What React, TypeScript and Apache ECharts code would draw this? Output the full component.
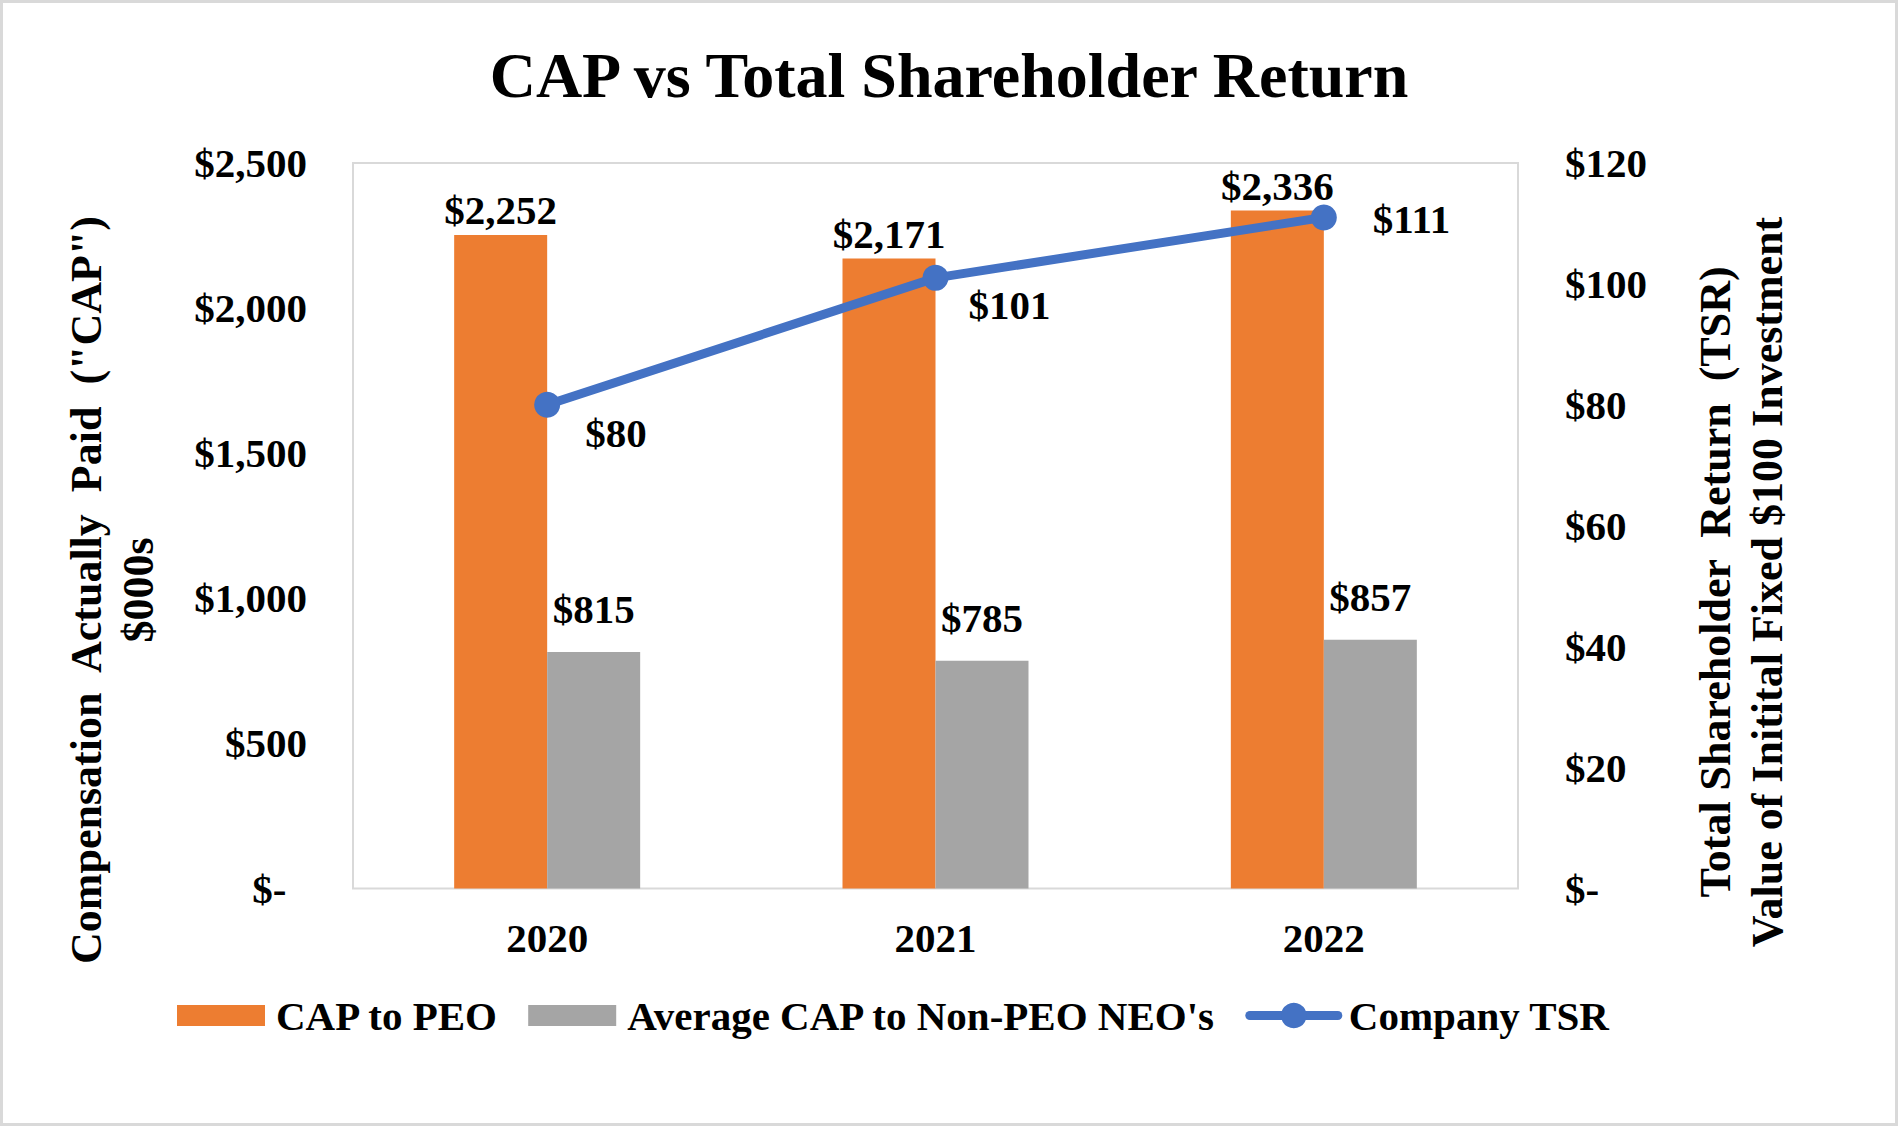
import React, { useEffect, useRef } from 'react';
import * as echarts from 'echarts';

const categories = ['2020', '2021', '2022'];
const capToPeo = [2252, 2171, 2336];
const avgCapNonPeo = [815, 785, 857];
const companyTsr = [80, 101, 111];

const leftTicks = { min: 0, max: 2500, interval: 500 };
const rightTicks = { min: 0, max: 120, interval: 20 };

const seriesNames = ['CAP to PEO', "Average CAP to Non-PEO NEO's", 'Company TSR'];

const tsrLabelOffsets = [
  [21, 28],
  [16, 27],
  [32, 2],
];

const FONT = "'Liberation Serif', 'Times New Roman', Times, serif";
const ORANGE = '#ED7D31';
const GRAY = '#A5A5A5';
const BLUE = '#4472C4';
const BAR_ICON = 'path://M0,0H88V21H0Z';

const fmtMoney = (v: number) => '$' + v.toLocaleString('en-US');

export default function App() {
  const ref = useRef<HTMLDivElement>(null);

  useEffect(() => {
    document.body.style.margin = '0';
    const chart = echarts.init(ref.current as HTMLDivElement, null, { renderer: 'svg' });
    const labelText = { fontFamily: FONT, fontWeight: 'bold' as const, fontSize: 41, color: '#000' };

    chart.setOption({
      animation: false,
      backgroundColor: '#ffffff',
      title: {
        text: 'CAP vs Total Shareholder Return',
        left: 'center',
        top: 43,
        padding: 0,
        textStyle: { fontFamily: FONT, fontWeight: 'bold', fontSize: 64, color: '#000' },
      },
      grid: {
        left: 353,
        right: 380,
        top: 163,
        bottom: 237.5,
        show: true,
        borderColor: '#d9d9d9',
        borderWidth: 2,
        backgroundColor: 'transparent',
      },
      legend: {
        left: 177,
        top: 995,
        padding: 0,
        itemWidth: 88,
        itemHeight: 32,
        itemGap: 29,
        symbolKeepAspect: true,
        textStyle: { ...labelText, padding: [0, 0, 0, 6] },
        data: [
          { name: seriesNames[0], icon: BAR_ICON },
          { name: seriesNames[1], icon: BAR_ICON },
          { name: seriesNames[2], lineStyle: { width: 9, cap: 'round', color: BLUE } },
        ],
      },
      xAxis: {
        type: 'category',
        data: categories,
        axisLine: { show: false },
        axisTick: { show: false },
        axisLabel: { ...labelText, margin: 29 },
      },
      yAxis: [
        {
          type: 'value',
          ...leftTicks,
          position: 'left',
          splitLine: { show: false },
          axisLine: { show: false },
          axisTick: { show: false },
          axisLabel: {
            ...labelText,
            margin: 46,
            formatter: (v: number) => (v === 0 ? '$-\u00A0\u00A0' : fmtMoney(v)),
          },
        },
        {
          type: 'value',
          ...rightTicks,
          position: 'right',
          splitLine: { show: false },
          axisLine: { show: false },
          axisTick: { show: false },
          axisLabel: {
            ...labelText,
            margin: 47,
            formatter: (v: number) => (v === 0 ? '$-' : '$' + v),
          },
        },
      ],
      series: [
        {
          name: seriesNames[0],
          type: 'bar',
          data: capToPeo,
          barWidth: 93,
          barGap: '0%',
          itemStyle: { color: ORANGE },
          label: {
            show: true,
            position: 'top',
            distance: 4,
            ...labelText,
            formatter: (p: any) => fmtMoney(p.value),
          },
        },
        {
          name: seriesNames[1],
          type: 'bar',
          data: avgCapNonPeo,
          barWidth: 93,
          barGap: '0%',
          itemStyle: { color: GRAY },
          label: {
            show: true,
            position: 'top',
            distance: 22,
            ...labelText,
            formatter: (p: any) => fmtMoney(p.value),
          },
        },
        {
          name: seriesNames[2],
          type: 'line',
          yAxisIndex: 1,
          data: companyTsr.map((v, i) => ({ value: v, label: { offset: tsrLabelOffsets[i] } })),
          symbol: 'circle',
          symbolSize: 26,
          lineStyle: { color: BLUE, width: 9 },
          itemStyle: { color: BLUE },
          z: 5,
          label: {
            show: true,
            position: 'right',
            distance: 4,
            ...labelText,
            formatter: (p: any) => '$' + p.value,
          },
        },
      ],
      graphic: [
        {
          type: 'rect',
          silent: true,
          shape: { x: 1.5, y: 1.5, width: 1895, height: 1123 },
          style: { fill: 'none', stroke: '#d9d9d9', lineWidth: 3 },
        },
        {
          type: 'text',
          x: 112.5,
          y: 590,
          rotation: Math.PI / 2,
          style: {
            text: 'Compensation  Actually  Paid  ("CAP")\n$000s',
            fontFamily: FONT,
            fontWeight: 'bold',
            fontSize: 44,
            lineHeight: 52,
            fill: '#000',
            align: 'center',
            verticalAlign: 'middle',
          },
        },
        {
          type: 'text',
          x: 1741,
          y: 582,
          rotation: Math.PI / 2,
          style: {
            text: 'Total Shareholder  Return  (TSR)\nValue of Initital Fixed $100 Investment',
            fontFamily: FONT,
            fontWeight: 'bold',
            fontSize: 44,
            lineHeight: 52,
            fill: '#000',
            align: 'center',
            verticalAlign: 'middle',
          },
        },
      ],
    });

    return () => chart.dispose();
  }, []);

  return <div ref={ref} style={{ width: 1898, height: 1126, background: '#fff' }} />;
}
